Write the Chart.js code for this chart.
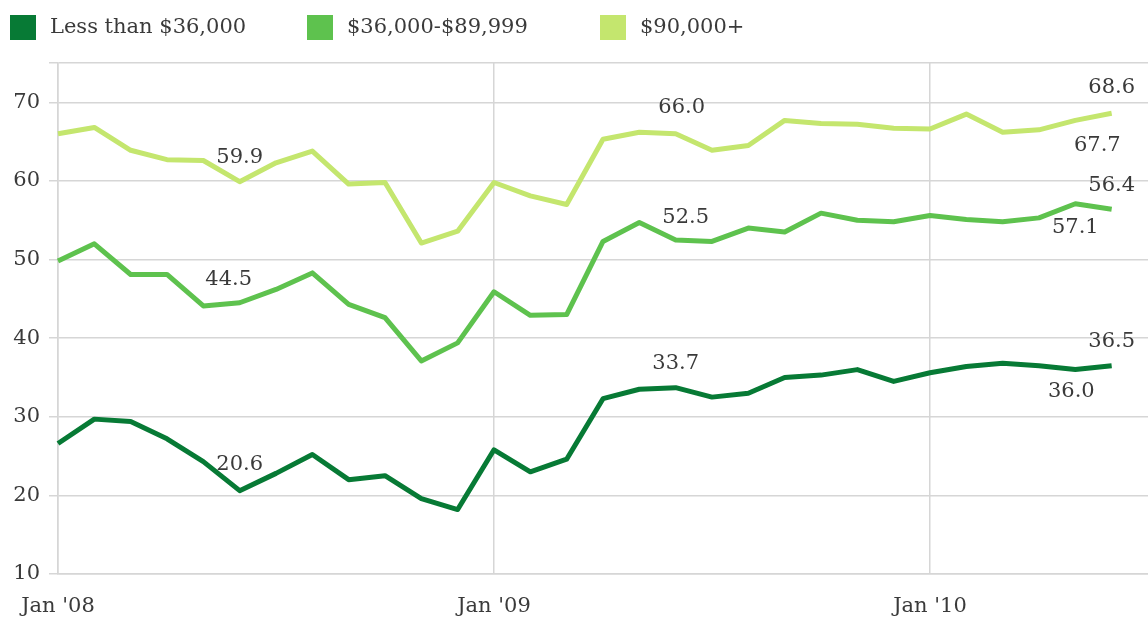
<!DOCTYPE html>
<html>
<head>
<meta charset="utf-8">
<script src="https://cdn.jsdelivr.net/npm/chart.js@4/dist/chart.umd.min.js"></script>
<style>
  html, body { margin: 0; padding: 0; background: #ffffff; }
  #wrap { width: 1148px; height: 621px; position: relative; }
</style>
</head>
<body>
<div id="wrap"><canvas id="c" width="1148" height="621"></canvas></div>
<script>
// ---- data ----
const months = ["Jan '08","Feb '08","Mar '08","Apr '08","May '08","Jun '08","Jul '08","Aug '08","Sep '08","Oct '08","Nov '08","Dec '08",
                "Jan '09","Feb '09","Mar '09","Apr '09","May '09","Jun '09","Jul '09","Aug '09","Sep '09","Oct '09","Nov '09","Dec '09",
                "Jan '10","Feb '10","Mar '10","Apr '10","May '10","Jun '10","Jul '10"];
const seriesNames = ["Less than $36,000", "$36,000-$89,999", "$90,000+"];
const lowIncome  = [26.6, 29.7, 29.4, 27.2, 24.3, 20.6, 22.8, 25.2, 22.0, 22.5, 19.6, 18.2, 25.8, 23.0, 24.6, 32.3, 33.5, 33.7, 32.5, 33.0, 35.0, 35.3, 36.0, 34.5, 35.6, 36.4, 36.8, 36.5, 36.0, 36.5];
const midIncome  = [49.8, 52.0, 48.1, 48.1, 44.1, 44.5, 46.2, 48.3, 44.3, 42.6, 37.1, 39.4, 45.9, 42.9, 43.0, 52.3, 54.7, 52.5, 52.3, 54.0, 53.5, 55.9, 55.0, 54.8, 55.6, 55.1, 54.8, 55.3, 57.1, 56.4];
const highIncome = [66.0, 66.8, 63.9, 62.7, 62.6, 59.9, 62.3, 63.8, 59.6, 59.8, 52.1, 53.6, 59.8, 58.1, 57.0, 65.3, 66.2, 66.0, 63.9, 64.5, 67.7, 67.3, 67.2, 66.7, 66.6, 68.5, 66.2, 66.5, 67.7, 68.6];
const yTicks = [10, 20, 30, 40, 50, 60, 70];
// points that carry a value label: [dataset index, point index]
const labeledPoints = [[2,5],[1,5],[0,5],[2,17],[1,17],[0,17],[2,29],[2,28],[1,29],[1,28],[0,29],[0,28]];

// ---- styling ----
const colors = ['#077a35', '#5ec24e', '#c4e66e'];
const FONT = '"DejaVu Serif", "Liberation Serif", serif';
const TEXT = '#3a3a3a';
const GRID = '#d6d6d6';
// label placement (dx, dy from the point), parallel to labeledPoints
const labelOffsets = [[0,-24],[-11,-23],[0,-26],[6,-26],[10,-22],[0,-24],[0,-26],[22,25],[0,-24],[0,24],[0,-24],[-4,22]];

const legendPlugin = {
  id: 'customLegend',
  afterDraw(chart) {
    const ctx = chart.ctx;
    const boxX = [10, 307, 600];
    ctx.save();
    ctx.font = '21px ' + FONT;
    ctx.textBaseline = 'middle';
    ctx.textAlign = 'left';
    chart.data.datasets.forEach((ds, i) => {
      ctx.fillStyle = ds.borderColor;
      ctx.fillRect(boxX[i], 15, 26, 25);
      ctx.fillStyle = TEXT;
      ctx.fillText(ds.label, boxX[i] + 40, 28);
    });
    ctx.restore();
  }
};

const valueLabelPlugin = {
  id: 'valueLabels',
  afterDatasetsDraw(chart) {
    const ctx = chart.ctx;
    ctx.save();
    ctx.font = '21px ' + FONT;
    ctx.fillStyle = TEXT;
    ctx.textAlign = 'center';
    ctx.textBaseline = 'middle';
    labeledPoints.forEach(([d, i], k) => {
      const pt = chart.getDatasetMeta(d).data[i];
      const v = chart.data.datasets[d].data[i];
      const [dx, dy] = labelOffsets[k];
      ctx.fillText(v.toFixed(1), pt.x + dx, pt.y + dy);
    });
    ctx.restore();
  }
};

const datasets = [lowIncome, midIncome, highIncome].map((vals, i) => ({
  label: seriesNames[i],
  data: vals,
  borderColor: colors[i],
  backgroundColor: colors[i],
  borderWidth: 5,
  pointRadius: 0,
  pointHoverRadius: 0,
  tension: 0,
  borderJoinStyle: 'round',
  fill: false
}));

new Chart(document.getElementById('c'), {
  type: 'line',
  data: { labels: months, datasets: datasets },
  options: {
    responsive: false,
    animation: false,
    events: [],
    layout: { padding: { top: 63, right: 0, bottom: 2, left: 0 } },
    plugins: { legend: { display: false }, tooltip: { enabled: false } },
    scales: {
      x: {
        type: 'category',
        offset: false,
        afterFit: (scale) => { scale.paddingRight = 0; scale.height = 45; },
        grid: {
          color: (c) => (c.index % 12 === 0 ? GRID : 'rgba(0,0,0,0)'),
          lineWidth: 1.5,
          drawTicks: false
        },
        border: { display: true, color: GRID, width: 1.5 },
        ticks: {
          autoSkip: false,
          maxRotation: 0,
          minRotation: 0,
          padding: 20,
          color: TEXT,
          font: { family: FONT, size: 21 },
          callback: (v, idx) => (idx % 12 === 0 ? months[idx] : '')
        }
      },
      y: {
        min: 10,
        max: 75,
        afterBuildTicks: (scale) => { scale.ticks = yTicks.concat([75]).map(v => ({ value: v })); },
        afterFit: (scale) => { scale.width = 58; scale.paddingTop = 0; scale.paddingBottom = 0; },
        grid: { color: GRID, lineWidth: 1.5, drawTicks: true, tickLength: 9 },
        border: { display: true, color: GRID, width: 1.5 },
        ticks: {
          padding: 9,
          color: TEXT,
          font: { family: FONT, size: 21 },
          callback: (v) => (yTicks.includes(v) ? String(v) : '')
        }
      }
    }
  },
  plugins: [legendPlugin, valueLabelPlugin]
});
</script>
</body>
</html>
